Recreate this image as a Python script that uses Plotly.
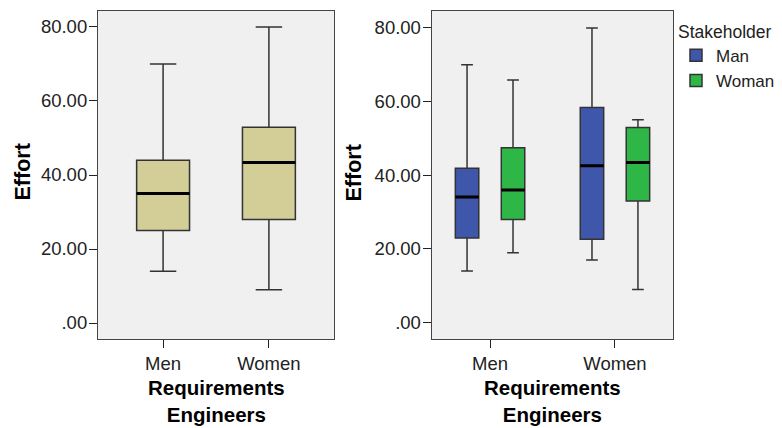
import plotly.graph_objects as go

# The page body has an 8px default margin, so the figure is sized and
# positioned to compensate.
OFF = 8
W, H = 782 - OFF, 428 - OFF


def px(x):
    return (x - OFF) / W


def py(y):
    return 1 - (y - OFF) / H


categories = ["Men", "Women"]

# Left panel: all stakeholders
all_q1 = [25.0, 28.0]
all_median = [35.0, 43.4]
all_q3 = [44.0, 52.9]
all_low = [14.0, 9.0]
all_high = [70.0, 80.0]

# Right panel: by stakeholder
man_q1 = [23.0, 22.6]
man_median = [34.1, 42.6]
man_q3 = [41.9, 58.4]
man_low = [14.0, 17.0]
man_high = [70.0, 80.0]

woman_q1 = [28.0, 33.0]
woman_median = [36.0, 43.5]
woman_q3 = [47.5, 53.0]
woman_low = [19.0, 9.0]
woman_high = [65.9, 55.1]

ytick_vals = [0, 20, 40, 60, 80]
ytick_text = [".00", "20.00", "40.00", "60.00", "80.00"]

FONT = "Liberation Sans, Arial, sans-serif"
TAN = "#D3CE97"
BLUE = "#3F57AB"
GREEN = "#2EB747"
EDGE = "#333333"

fig = go.Figure()

# Left panel box
fig.add_trace(go.Box(
    x=categories, q1=all_q1, median=all_median, q3=all_q3,
    lowerfence=all_low, upperfence=all_high,
    fillcolor=TAN, line=dict(color=EDGE, width=1.5),
    width=0.5, whiskerwidth=0.5, boxpoints=False,
    xaxis="x", yaxis="y", showlegend=False, name="All",
))
# thick median overlay (left)
fig.add_trace(go.Box(
    x=categories, q1=all_median, median=all_median, q3=all_median,
    lowerfence=all_median, upperfence=all_median,
    fillcolor="rgba(0,0,0,0)", line=dict(color="black", width=3),
    width=0.5, whiskerwidth=0.0, boxpoints=False,
    xaxis="x", yaxis="y", showlegend=False, hoverinfo="skip", name="med",
))

# Right panel boxes
for name, q1, med, q3, lo, hi, col, og in [
    ("Man", man_q1, man_median, man_q3, man_low, man_high, BLUE, "a"),
    ("Woman", woman_q1, woman_median, woman_q3, woman_low, woman_high, GREEN, "b"),
]:
    fig.add_trace(go.Box(
        x=categories, q1=q1, median=med, q3=q3, lowerfence=lo, upperfence=hi,
        fillcolor=col, line=dict(color=EDGE, width=1.5),
        whiskerwidth=0.5, boxpoints=False, name=name,
        offsetgroup=og, alignmentgroup="R",
        xaxis="x2", yaxis="y2", showlegend=True,
    ))
for med, og in [(man_median, "a"), (woman_median, "b")]:
    fig.add_trace(go.Box(
        x=categories, q1=med, median=med, q3=med, lowerfence=med, upperfence=med,
        fillcolor="rgba(0,0,0,0)", line=dict(color="black", width=3),
        whiskerwidth=0.0, boxpoints=False, name="med",
        offsetgroup=og, alignmentgroup="R",
        xaxis="x2", yaxis="y2", showlegend=False, hoverinfo="skip",
    ))

ydom = [py(339), py(11)]
line_common = dict(
    showline=True, linecolor="#444444", linewidth=1.2, mirror=True,
    ticks="outside", tickcolor="#222222", ticklen=8, tickwidth=1.2,
    showgrid=False, zeroline=False,
)
xtick_font = dict(family=FONT, size=18.5, color="#222222")
ytick_font = dict(family=FONT, size=18.5, color="#222222")

fig.update_layout(
    width=W, height=H,
    margin=dict(l=0, r=0, t=0, b=0, autoexpand=False),
    paper_bgcolor="white",
    plot_bgcolor="#F0F0F0",
    boxmode="group", boxgap=0.264, boxgroupgap=0.49,
    font=dict(family=FONT, color="#222222"),
    xaxis=dict(domain=[px(98), px(334)], type="category",
               range=[-0.615, 1.615], anchor="y", tickfont=xtick_font,
               **line_common),
    yaxis=dict(domain=ydom, range=[-4.32, 84.32], anchor="x",
               tickvals=ytick_vals, ticktext=ytick_text, tickfont=ytick_font,
               ticklabelstandoff=-2, **line_common),
    xaxis2=dict(domain=[px(431.7), px(673.3)], type="category",
                range=[-0.467, 1.467], anchor="y2", tickfont=xtick_font,
                **line_common),
    yaxis2=dict(domain=ydom, range=[-4.45, 84.6], anchor="x2",
                tickvals=ytick_vals, ticktext=ytick_text, tickfont=ytick_font,
                ticklabelstandoff=-2, **line_common),
    legend=dict(
        x=px(676), xanchor="left", y=py(15), yanchor="top",
        title=dict(text="Stakeholder", font=dict(family=FONT, size=17.5, color="#222222")),
        font=dict(family=FONT, size=17, color="#222222"),
        bgcolor="rgba(0,0,0,0)", tracegroupgap=0, itemwidth=30,
    ),
    showlegend=True,
)

ann_font = dict(family=FONT, size=20.5, color="black")
axis_titles = [
    dict(text="<b>Effort</b>", x=px(23), y=py(172.5), textangle=-90,
         yanchor="middle", font=dict(family=FONT, size=21.5, color="black")),
    dict(text="<b>Effort</b>", x=px(353.5), y=py(173), textangle=-90,
         yanchor="middle", font=dict(family=FONT, size=21.5, color="black")),
    dict(text="<b>Requirements<br>Engineers</b>", x=px(216), y=py(427.5),
         yanchor="bottom", font=ann_font),
    dict(text="<b>Requirements<br>Engineers</b>", x=px(552), y=py(427.5),
         yanchor="bottom", font=ann_font),
]
for a in axis_titles:
    fig.add_annotation(xref="paper", yref="paper", showarrow=False,
                       xanchor="center", **a)

fig.write_html("out.html")
